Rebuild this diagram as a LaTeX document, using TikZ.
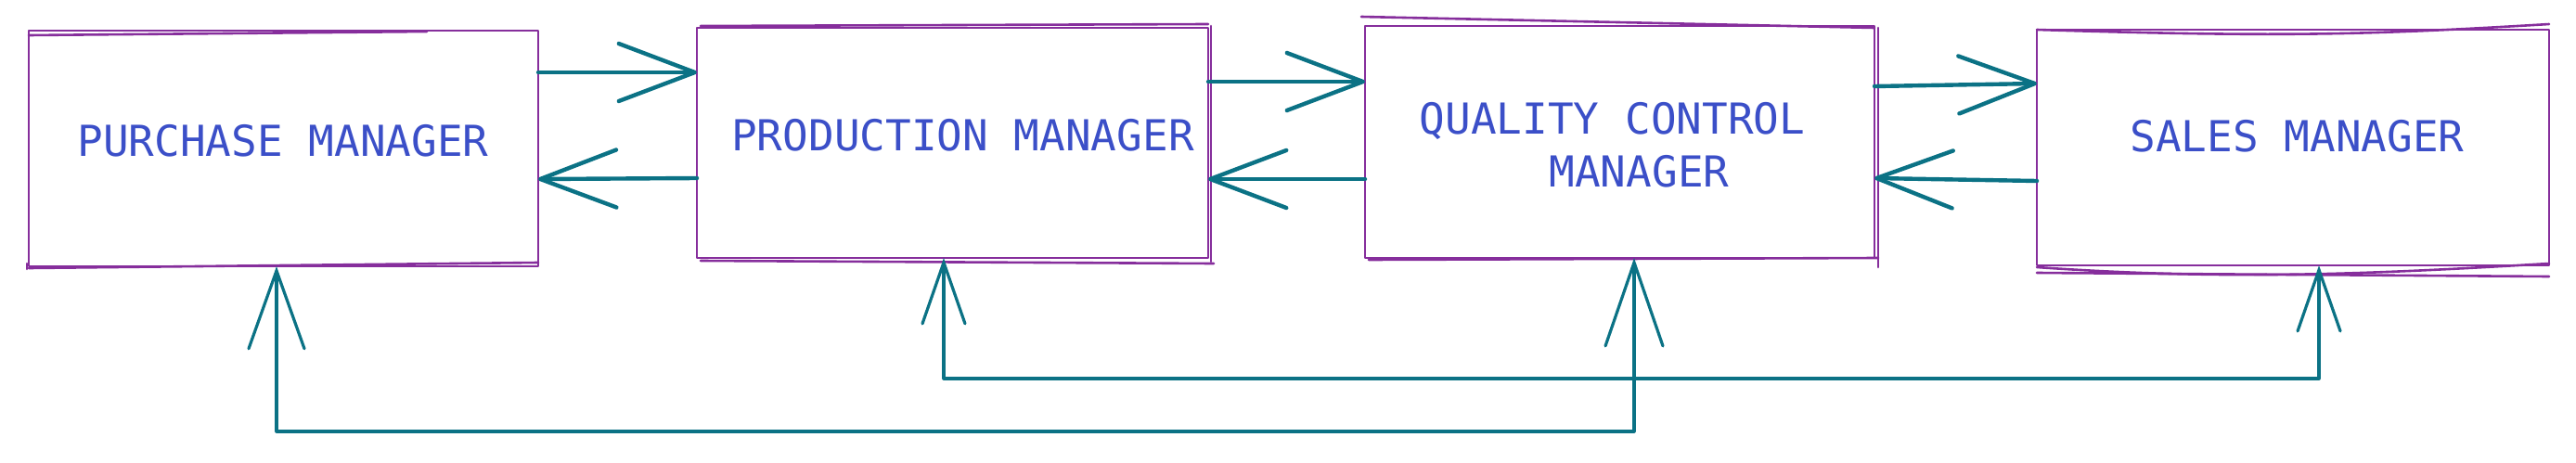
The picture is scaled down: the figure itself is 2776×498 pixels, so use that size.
\documentclass[tikz,border=0pt]{standalone}
\usepackage{fontspec}
\setmonofont{DejaVu Sans Mono}
\usetikzlibrary{arrows.meta}
\definecolor{boxc}{HTML}{862E9C}
\definecolor{arrc}{HTML}{0B7285}
\definecolor{txtc}{HTML}{3B4FC8}
\begin{document}
\begin{tikzpicture}[x=0.5pt,y=-0.5pt,
  box/.style={draw=boxc,line width=1.3pt,line join=round,minimum width=275pt,minimum height=126pt,inner sep=0pt,outer sep=0pt},
  rough/.style={draw=boxc,line width=1.3pt,line cap=round},
  lbl/.style={text=txtc,font=\fontsize{23pt}{28pt}\selectfont\ttfamily,anchor=base,inner sep=0pt},
  harr/.style={draw=arrc,line width=2.2pt,line cap=round,line join=round,-{Straight Barb[length=41pt,width=31pt,line cap=round,line join=round]}},
  varr/.style={draw=arrc,line width=1.6pt,line cap=round,line join=round}
]
\useasboundingbox (0,0) rectangle (2776,498);

% boxes
\node[box,minimum width=274.5pt,minimum height=127pt] (pm) at (305.5,160) {};
\node[box,minimum width=275.5pt,minimum height=124pt] (prod) at (1026.5,154) {};
\node[box,minimum width=274.5pt,minimum height=125pt] (qc) at (1745.5,153) {};
\node[box,minimum width=276pt,minimum height=127pt] (sales) at (2471,159) {};

% sketchy double strokes
\draw[rough] ([shift={(0pt,-2.5pt)}]pm.north west) -- ([shift={(-60pt,-0.5pt)}]pm.north east);
\draw[rough] ([shift={(0pt,-1pt)}]pm.south west) -- ([shift={(0pt,2pt)}]pm.south east);
\draw[rough] ([shift={(-1pt,1.5pt)}]pm.south west) -- ([shift={(-1pt,-1.5pt)}]pm.south west);
\draw[rough] ([shift={(2pt,1pt)}]prod.north west) -- ([shift={(0pt,2pt)}]prod.north east);
\draw[rough] ([shift={(2pt,-1.5pt)}]prod.south west) -- ([shift={(3pt,-3pt)}]prod.south east);
\draw[rough] ([shift={(1.5pt,1pt)}]prod.north east) -- ([shift={(1.5pt,-2pt)}]prod.south east);
\draw[rough] ([shift={(-2pt,5pt)}]qc.north west) -- ([shift={(0pt,-1pt)}]qc.north east);
\draw[rough] ([shift={(2pt,-1pt)}]qc.south west) -- ([shift={(2pt,0pt)}]qc.south east);
\draw[rough] ([shift={(2pt,-1pt)}]qc.north east) -- ([shift={(2pt,-5pt)}]qc.south east);
\draw[rough] (sales.north west) .. controls ([shift={(130pt,-4pt)}]sales.north west) and ([shift={(-100pt,-3pt)}]sales.north east) .. ([shift={(0pt,3pt)}]sales.north east);
\draw[rough] ([shift={(0pt,-1pt)}]sales.south west) .. controls ([shift={(100pt,-8pt)}]sales.south west) and ([shift={(-100pt,-5pt)}]sales.south east) .. ([shift={(0pt,1pt)}]sales.south east);
\draw[rough] ([shift={(0pt,-4pt)}]sales.south west) -- ([shift={(0pt,-6pt)}]sales.south east);

% labels
\node[lbl] (pmt) at (305,168) {PURCHASE MANAGER};
\node[lbl] (prodt) at (1037.5,162) {PRODUCTION MANAGER};
\node[lbl] (qct1) at (1737.5,144) {QUALITY CONTROL};
\node[lbl] (qct2) at (1766.5,201) {MANAGER};
\node[lbl] (salest) at (2475.5,163) {SALES MANAGER};

% horizontal connectors
\draw[harr] ([yshift=41pt]pm.east) -- ([yshift=38pt]prod.west);
\draw[harr] ([yshift=-19pt]prod.west) -- ([yshift=-16.5pt]pm.east);
\draw[harr] ([yshift=33pt]prod.east) -- ([yshift=32.5pt]qc.west);
\draw[harr] ([yshift=-20pt]qc.west) -- ([yshift=-19.5pt]prod.east);
\draw[harr] ([yshift=30pt]qc.east) -- ([yshift=34.5pt]sales.west);
\draw[harr] ([yshift=-18pt]sales.west) -- ([yshift=-19.5pt]qc.east);

% bottom connectors
\draw[varr,{Straight Barb[length=42pt,width=30pt,line cap=round]}-{Straight Barb[length=45pt,width=31pt,line cap=round]}]
  ([xshift=-3.75pt]pm.south) -- ++(0,178) -| ([xshift=7.75pt]qc.south);
\draw[varr,{Straight Barb[length=33pt,width=23pt,line cap=round]}-{Straight Barb[length=33pt,width=23pt,line cap=round]}]
  ([xshift=-4.75pt]prod.south) -- ++(0,130) -| ([xshift=14pt]sales.south);
\end{tikzpicture}
\end{document}
